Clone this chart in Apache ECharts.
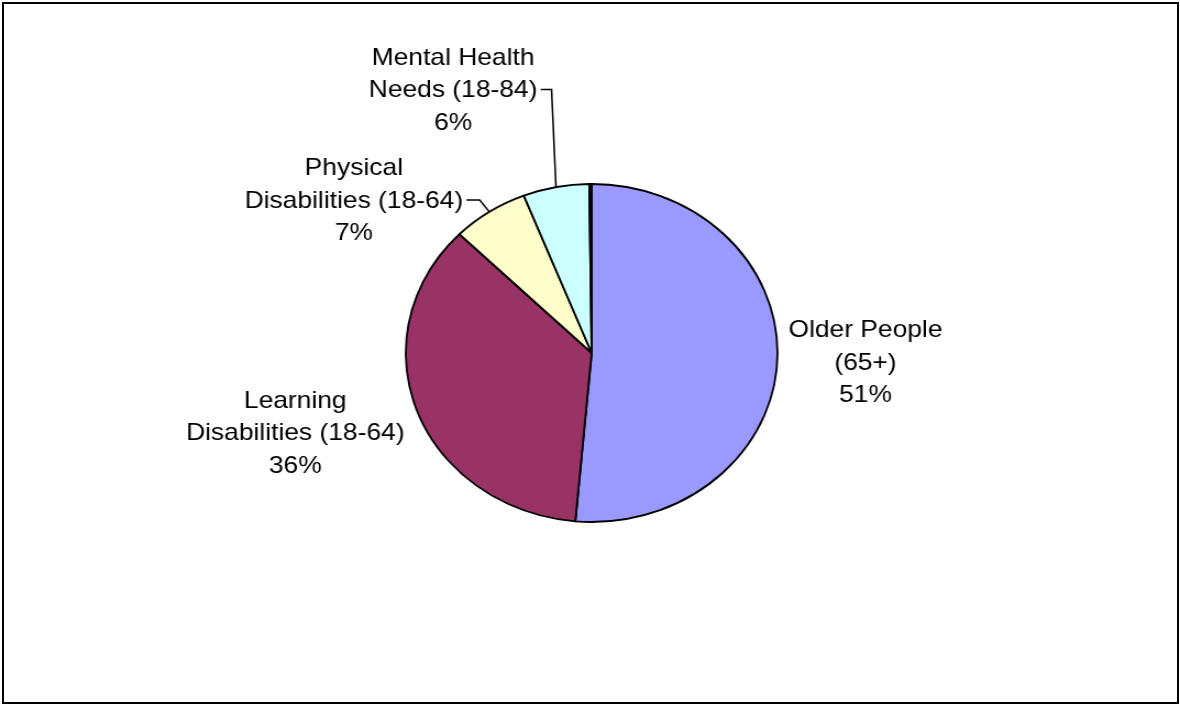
<!DOCTYPE html>
<html>
<head>
<meta charset="utf-8">
<script src="https://cdn.jsdelivr.net/npm/echarts@6/dist/echarts.min.js"></script>
<style>
  html, body { margin: 0; padding: 0; background: #fff; width: 1180px; height: 705px; overflow: hidden; }
  #frame { position: absolute; left: 2px; top: 2px; width: 1177px; height: 702px; box-sizing: border-box; border: 2px solid #000; pointer-events: none; }
  #chart { position: absolute; left: 0; top: 0; width: 1073px; height: 705px; transform: scaleX(1.0997); transform-origin: 0 0; }
</style>
</head>
<body>
<div id="chart"></div>
<div id="frame"></div>
<script>
// ---- data ----
const categories = ['Older People\n(65+)', 'Learning\nDisabilities (18-64)', 'Physical\nDisabilities (18-64)', 'Mental Health\nNeeds (18-84)', 'Other'];
const values = [51.4, 36.0, 6.65, 5.75, 0.2];
const colors = ['#9999FF', '#993366', '#FFFFCC', '#CCFFFF', '#660066'];

// ---- layout (label placement, Excel-like) ----
const labelPos = { 0: [787, 363], 1: [268.5, 433.5], 2: [321.8, 201], 3: [412, 90.5] };
const withLeader = { 2: true, 3: true };

const data = categories.map((name, i) => ({
  name: name,
  value: values[i],
  itemStyle: { color: colors[i] },
  label: { show: labelPos[i] !== undefined },
  labelLine: { show: !!withLeader[i] }
}));

const chart = echarts.init(document.getElementById('chart'), null, { renderer: 'canvas' });
chart.setOption({
  animation: false,
  backgroundColor: '#fff',
  series: [{
    type: 'pie',
    center: [538, 353],
    radius: 169,
    startAngle: 90,
    clockwise: true,
    avoidLabelOverlap: false,
    percentPrecision: 0,
    silent: true,
    data: data,
    itemStyle: { borderColor: '#000', borderWidth: 1.8 },
    label: {
      position: 'outside',
      formatter: '{b}\n{d}%',
      fontFamily: 'Liberation Sans, Arial, sans-serif',
      fontSize: 24,
      lineHeight: 32.5,
      color: '#000',
      align: 'center'
    },
    labelLine: { show: true, length: 10, length2: 10, lineStyle: { color: '#000', width: 1.5 } },
    labelLayout: function (p) {
      const pos = labelPos[p.dataIndex];
      if (!pos) return {};
      const res = { x: pos[0], y: pos[1], align: 'center', verticalAlign: 'middle' };
      if (withLeader[p.dataIndex] && p.labelLinePoints) {
        const a = p.labelLinePoints[0];
        const right = pos[0] + p.labelRect.width / 2 + 3;
        const lineY = pos[1] - 1;
        const elbow = Math.min(right + 12, a[0] - 4);
        res.labelLinePoints = [[right, lineY], [elbow, lineY], [a[0], a[1]]];
      }
      return res;
    }
  }]
});
</script>
</body>
</html>
